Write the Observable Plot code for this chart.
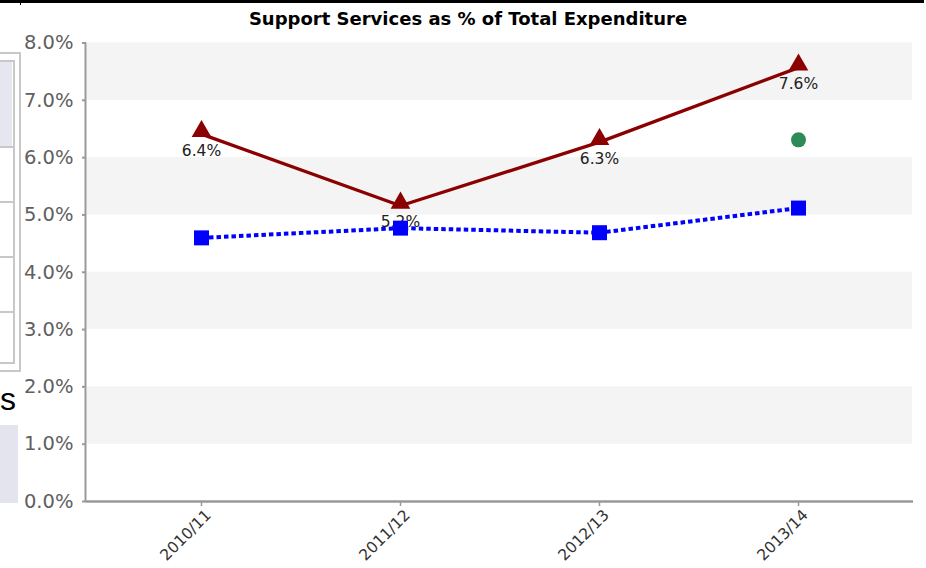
<!DOCTYPE html>
<html>
<head>
<meta charset="utf-8">
<script src="https://cdn.jsdelivr.net/npm/d3@7"></script>
<script src="https://cdn.jsdelivr.net/npm/@observablehq/plot@0.6"></script>
<style>
  html, body { margin: 0; padding: 0; background: #fff; width: 926px; height: 568px; overflow: hidden; }
  #wrap { position: relative; width: 926px; height: 568px; }
  #topline { position: absolute; left: 0; top: 0; width: 924px; height: 3px; background: #000; }
  #topnub { position: absolute; left: 20px; top: 2px; width: 1px; height: 3px; background: #000; }
  #title { position: absolute; top: 8px; left: 0; width: 936px; text-align: center;
           font: bold 18px "DejaVu Sans", sans-serif; color: #000; }
  #chart { position: absolute; left: 0; top: 0; }
  .frame-out { position: absolute; left: -4px; top: 52px; width: 21px; height: 316px; border: 2px solid #c8c8c8; }
  .frame-in { position: absolute; left: -4px; top: 60px; width: 15px; height: 300px; border: 2px solid #c8c8c8; background: #fff; }
  .hdr { position: absolute; left: 0; top: 62px; width: 12px; height: 85px; background: #e6e6f0; }
  .row { position: absolute; left: 0; width: 13px; height: 2px; background: #c8c8c8; }
  .stub { position: absolute; left: 0; top: 381px; font: 32px "Liberation Sans", Arial, sans-serif; color: #000; }
  .lav { position: absolute; left: 0; top: 425px; width: 18px; height: 78px; background: #e4e4ef; }
</style>
</head>
<body>
<div id="wrap">
  <div id="topline"></div>
  <div id="topnub"></div>
  <div class="frame-out"></div>
  <div class="frame-in"></div>
  <div class="hdr"></div>
  <div class="row" style="top:146px"></div>
  <div class="row" style="top:201px"></div>
  <div class="row" style="top:256px"></div>
  <div class="row" style="top:311px"></div>
  <div class="stub">s</div>
  <div class="lav"></div>
  <div id="chart"></div>
  <div id="title">Support Services as % of Total Expenditure</div>
</div>
<script>
// ---- data ----
const categories = ["2010/11", "2011/12", "2012/13", "2013/14"];
const supportPct = [6.41, 5.16, 6.27, 7.57];          // dark red line (triangles)
const supportLabels = ["6.4%", "5.2%", "6.3%", "7.6%"];
const comparePct = [4.60, 4.77, 4.69, 5.12];          // blue dotted line (squares)
const targetCategory = ["2013/14"];                   // green dot
const targetPct = [6.31];
const yTicks = [0, 1, 2, 3, 4, 5, 6, 7, 8];
const bandLow = [7, 5, 3, 1];
const bandHigh = [8, 6, 4, 2];

const red = categories.map((c, i) => ({cat: c, v: supportPct[i], label: supportLabels[i]}));
const blue = categories.map((c, i) => ({cat: c, v: comparePct[i]}));
const green = targetCategory.map((c, i) => ({cat: c, v: targetPct[i]}));
const bands = bandLow.map((lo, i) => ({lo, hi: bandHigh[i]}));

const plot = Plot.plot({
  width: 926,
  height: 568,
  marginLeft: 86,
  marginRight: 13,
  marginTop: 42.5,
  marginBottom: 67,
  style: {fontFamily: "DejaVu Sans, sans-serif", background: "transparent", overflow: "visible"},
  x: {type: "point", domain: categories, padding: 0.57, label: null},
  y: {domain: [0, 8], label: null},
  marks: [
    Plot.rect(bands, {y1: "lo", y2: "hi", fill: "#f4f4f4", insetLeft: 1, insetRight: 1}),
    Plot.axisY({ticks: yTicks, tickFormat: d => d.toFixed(1) + "%", tickSize: 4, tickPadding: 9,
                stroke: "#999", strokeWidth: 2, fill: "#606060", fontSize: 19.5, label: null}),
    // tick marks only
    Plot.axisX({tickSize: 5, tickFormat: () => "", stroke: "#999", strokeWidth: 1.5, label: null}),
    // rotated labels only
    Plot.axisX({tickSize: 0, tickPadding: 11, tickRotate: -45, fill: "#333", fontSize: 15.5, dx: 7, label: null}),
    Plot.ruleY([0], {stroke: "#999", strokeWidth: 2.5}),
    Plot.line(red, {x: "cat", y: "v", stroke: "#8b0000", strokeWidth: 3.3}),
    Plot.dot(red, {x: "cat", y: "v", symbol: "triangle", r: 7.3, fill: "#8b0000", stroke: "none", dy: -2.8}),
    Plot.text(red, {x: "cat", y: "v", text: "label", dy: 16.5, fontSize: 15.5, fill: "#222"}),
    Plot.line(blue, {x: "cat", y: "v", stroke: "#0000ff", strokeWidth: 4, strokeDasharray: "4.5,3",
                     strokeLinecap: "butt", strokeLinejoin: "miter"}),
    Plot.dot(blue, {x: "cat", y: "v", symbol: "square", r: 8.46, fill: "#0000ff", stroke: "none"}),
    Plot.dot(green, {x: "cat", y: "v", r: 7.5, fill: "#2e8b57", stroke: "none"})
  ]
});

// left axis line drawn from the plot's own scales
const xr = plot.scale("x").range;
const yr = plot.scale("y").range;
d3.select(plot).append("line")
  .attr("x1", xr[0] - 0.5).attr("x2", xr[0] - 0.5)
  .attr("y1", yr[0]).attr("y2", yr[1])
  .attr("stroke", "#999").attr("stroke-width", 2);

document.getElementById("chart").appendChild(plot);
</script>
</body>
</html>
